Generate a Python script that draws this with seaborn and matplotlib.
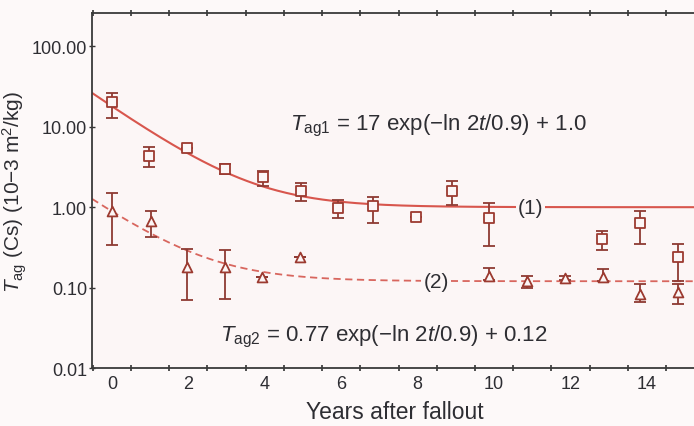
import numpy as np
import pandas as pd
import matplotlib
matplotlib.use("Agg")
import matplotlib.pyplot as plt
import seaborn as sns
from matplotlib.ticker import FixedLocator, FixedFormatter, NullLocator

# Series (1): squares, transfer factor with error bar limits
sq_years = [0.0, 0.97, 1.96, 2.96, 3.95, 4.95, 5.92, 6.83, 7.96, 8.9, 9.87, 12.83, 13.82, 14.81]
sq_vals = [20.5, 4.35, 5.5, 3.0, 2.37, 1.58, 0.97, 1.03, 0.75, 1.58, 0.73, 0.40, 0.63, 0.24]
sq_high = [26.6, 5.6, 5.5, 3.4, 2.8, 1.99, 1.22, 1.33, 0.75, 2.1, 1.12, 0.50, 0.89, 0.35]
sq_low = [12.9, 3.16, 5.5, 2.6, 1.83, 1.19, 0.73, 0.63, 0.75, 1.06, 0.33, 0.29, 0.35, 0.12]

# Series (2): triangles
tri_years = [0.0, 1.02, 1.96, 2.96, 3.93, 4.92, 9.87, 10.86, 11.86, 12.85, 13.82, 14.81]
tri_vals = [0.89, 0.67, 0.18, 0.18, 0.137, 0.24, 0.14, 0.122, 0.133, 0.137, 0.084, 0.089]
tri_high = [1.5, 0.89, 0.30, 0.29, 0.137, 0.24, 0.177, 0.14, 0.14, 0.17, 0.112, 0.11]
tri_low = [0.335, 0.43, 0.071, 0.073, 0.137, 0.24, 0.126, 0.10, 0.126, 0.12, 0.067, 0.063]

# Fit parameters: T = a * exp(-ln2 * t / 0.9) + c
fit1 = (17.0, 1.0)
fit2 = (0.77, 0.12)
half_life = 0.9

y_ticks = [0.01, 0.1, 1.0, 10.0, 100.0]
y_tick_labels = ["0.01", "0.10", "1.00", "10.00", "100.00"]
x_ticks = [0, 2, 4, 6, 8, 10, 12, 14]

sns.set_theme(style="ticks")
plt.rcParams["font.family"] = ["Liberation Sans", "DejaVu Sans"]
plt.rcParams["mathtext.fontset"] = "custom"
plt.rcParams["mathtext.rm"] = "Liberation Sans"
plt.rcParams["mathtext.it"] = "Liberation Sans:italic"

bg = "#fdf9f9"
ink = "#2e2e33"
fig = plt.figure(figsize=(6.94, 4.27), dpi=100, facecolor=bg)
ax = fig.add_axes([0.1326, 0.1358, 0.8735, 0.8314], facecolor="#fcf6f6")

xmin, xmax = -0.52, 15.34
t = np.linspace(xmin, xmax, 400)
curves = pd.DataFrame({
    "t": t,
    "c1": fit1[0] * np.exp(-np.log(2) * t / half_life) + fit1[1],
    "c2": fit2[0] * np.exp(-np.log(2) * t / half_life) + fit2[1],
})

sns.lineplot(data=curves, x="t", y="c1", ax=ax, color="#d8564d", lw=1.5, zorder=2)
sns.lineplot(data=curves, x="t", y="c2", ax=ax, color="#d8665e", lw=1.3,
             dashes=False, linestyle=(0, (4, 2.5)), zorder=2)

bar_color = "#8e3a33"
sq = np.array(sq_vals)
ax.errorbar(sq_years, sq, yerr=[sq - np.array(sq_low), np.array(sq_high) - sq],
            fmt="none", ecolor=bar_color, elinewidth=1.3, capsize=4.5, capthick=1.3, zorder=3)
tr = np.array(tri_vals)
ax.errorbar(tri_years, tr, yerr=[tr - np.array(tri_low), np.array(tri_high) - tr],
            fmt="none", ecolor=bar_color, elinewidth=1.3, capsize=4.5, capthick=1.3, zorder=3)

sns.scatterplot(x=sq_years, y=sq_vals, ax=ax, marker="s", s=55,
                facecolor="#fcf6f6", edgecolor="#9c3a30", linewidth=1.3, zorder=4)
sns.scatterplot(x=tri_years, y=tri_vals, ax=ax, marker="^", s=50,
                facecolor="#fcf6f6", edgecolor="#9c3a30", linewidth=1.3, zorder=4)

ax.set_yscale("log")
ax.set_xlim(xmin, xmax)
ax.set_ylim(0.01, 260)

ax.yaxis.set_major_locator(FixedLocator(y_ticks))
ax.yaxis.set_major_formatter(FixedFormatter(y_tick_labels))
ax.yaxis.set_minor_locator(NullLocator())
ax.xaxis.set_major_locator(FixedLocator(x_ticks))
ax.xaxis.set_minor_locator(FixedLocator(np.arange(-0.5, 15.6, 1.0)))

ax.tick_params(axis="x", which="major", length=0, pad=5, labelsize=13, labelcolor=ink)
ax.tick_params(axis="x", which="minor", direction="inout", length=4, width=1.2,
               top=True, bottom=True, color="#333333")
ax.tick_params(axis="y", which="major", direction="inout", length=5, width=1.0,
               left=True, right=True, labelsize=13, labelcolor=ink, pad=1, color="#333333")

for side in ["left", "bottom", "top", "right"]:
    ax.spines[side].set_visible(True)
    ax.spines[side].set_color("#3a3a3a")
    ax.spines[side].set_linewidth(1.3)

ax.set_xlabel("Years after fallout", fontsize=16.5, color=ink, labelpad=6)
ax.set_ylabel(r"$T_{\mathrm{ag}}$ (Cs) (10−3 m$^{2}$/kg)", fontsize=15, color=ink, labelpad=2)

ax.text(4.66, 9.2, r"$T_{\mathrm{ag1}}$ = 17 exp(−ln 2$t$/0.9) + 1.0",
        fontsize=16, color=ink, ha="left", va="baseline", zorder=5)
ax.text(2.83, 0.022, r"$T_{\mathrm{ag2}}$ = 0.77 exp(−ln 2$t$/0.9) + 0.12",
        fontsize=16, color=ink, ha="left", va="baseline", zorder=5)

box = dict(facecolor="#fcf6f6", edgecolor="none", pad=1.5)
ax.text(10.95, 1.0, "(1)", fontsize=15, color=ink, ha="center", va="center", bbox=box, zorder=3)
ax.text(8.48, 0.12, "(2)", fontsize=15, color=ink, ha="center", va="center", bbox=box, zorder=3)

fig.savefig("out.png", dpi=100, facecolor=bg)
